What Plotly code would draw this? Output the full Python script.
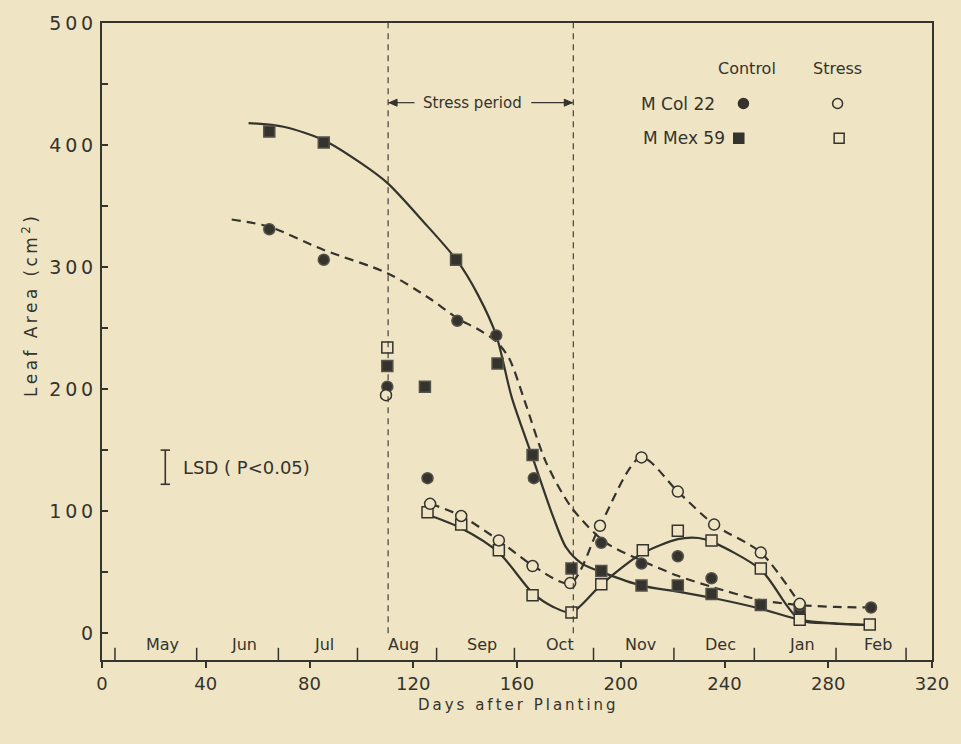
import plotly.graph_objects as go

# ---------------- data ----------------
# MCol 22 - control (filled circles)
col_ctrl_day = [64.5, 85.5, 110, 125.5, 137, 152, 166.5, 192.5, 208, 222, 235, 269, 296.5]
col_ctrl_val = [331, 306, 202, 127, 256, 244, 127, 74, 57, 63, 45, 23, 21]
# MMex 59 - control (filled squares)
mex_ctrl_day = [64.5, 85.5, 110, 124.5, 136.5, 152.5, 166, 181, 192.5, 208, 222, 235, 254, 269]
mex_ctrl_val = [411, 402, 219, 202, 306, 221, 146, 53, 51, 39, 39, 32, 23, 20]
# MCol 22 - stress (open circles)
col_str_day = [109.5, 126.5, 138.5, 153, 166, 180.5, 192, 208, 222, 236, 254, 269]
col_str_val = [195, 106, 96, 76, 55, 41, 88, 144, 116, 89, 66, 24]
# MMex 59 - stress (open squares)
mex_str_day = [110, 125.5, 138.5, 153, 166, 181, 192.5, 208.5, 222, 235, 254, 269, 296]
mex_str_val = [234, 99, 89, 68, 31, 17, 40, 68, 84, 76, 53, 11, 7]

# fitted curves
fit_mex_ctrl_day = [56.5, 70, 85.5, 100, 110, 124, 137, 145, 152, 158, 166, 174, 179, 185, 194, 208, 222, 235, 254, 269, 282, 296]
fit_mex_ctrl_val = [418, 415, 404, 385, 369, 337, 305, 277, 244, 193, 144, 95, 70, 57, 49, 39, 34, 29, 20, 11, 8, 6.5]
fit_col_ctrl_day = [50, 64.5, 85.5, 110, 126.5, 137, 145, 152, 157, 163, 171, 181, 194, 208, 222, 235, 254, 269, 283, 297]
fit_col_ctrl_val = [339, 333, 314, 295, 274, 258, 249, 239, 225, 190, 141, 103, 74.5, 59.5, 47, 38, 27, 23, 21.5, 21]
fit_mex_str_day = [125.6, 138.5, 153, 166, 174, 181, 192.6, 208, 222, 230, 235, 254, 269, 282, 296]
fit_mex_str_val = [97, 86, 66, 33, 21.5, 17, 40, 65, 77, 78, 75, 52, 11, 8, 6.5]
fit_col_str_day = [126.7, 138.5, 153, 166, 180.5, 192, 207.8, 222, 236, 254, 269]
fit_col_str_val = [106, 96, 76, 55.5, 41, 88, 144, 116, 89, 66, 24]

month_names = ["May", "Jun", "Jul", "Aug", "Sep", "Oct", "Nov", "Dec", "Jan", "Feb"]
month_bounds = [5, 36.5, 68, 98.5, 129, 159, 189.5, 220.5, 251.5, 283, 310]

x_ticks = [0, 40, 80, 120, 160, 200, 240, 280, 320]
y_ticks = [0, 100, 200, 300, 400, 500]
y_minor_step = 50

stress_start, stress_end = 110.3, 181.7
lsd_value = 28

# ---------------- style ----------------
BG = "#efe5c4"
INK = "#35332d"
FONT = "DejaVu Sans"
DASH = "9px,6px"
THIN = "\u2009"


def spaced(s, sep=THIN):
    return sep.join(list(s))


fig = go.Figure()


def line(xs, ys, dash=None):
    fig.add_trace(go.Scatter(x=xs, y=ys, mode="lines",
                             line=dict(color=INK, width=2.2, shape="spline", smoothing=0.8, dash=dash),
                             hoverinfo="skip", showlegend=False))


line(fit_mex_ctrl_day, fit_mex_ctrl_val)
line(fit_col_ctrl_day, fit_col_ctrl_val, DASH)
line(fit_mex_str_day, fit_mex_str_val)
line(fit_col_str_day, fit_col_str_val, DASH)


def pts(xs, ys, symbol, filled):
    fig.add_trace(go.Scatter(x=xs, y=ys, mode="markers",
                             marker=dict(symbol=symbol, size=11,
                                         color=INK if filled else BG,
                                         line=dict(color=INK if not filled else "#55524a", width=1.5)),
                             showlegend=False))


pts(mex_ctrl_day, mex_ctrl_val, "square", True)
pts(col_ctrl_day, col_ctrl_val, "circle", True)
pts(mex_str_day, mex_str_val, "square", False)
pts(col_str_day, col_str_val, "circle", False)

shapes = []
# stress period lines
for xv in (stress_start, stress_end):
    shapes.append(dict(type="line", x0=xv, x1=xv, y0=0, y1=500, xref="x", yref="y",
                       line=dict(color=INK, width=1.1, dash="6px,5px")))
# stress period arrows
arrow_y = 434.7
shapes.append(dict(type="line", x0=stress_start, x1=120.5, y0=arrow_y, y1=arrow_y,
                   line=dict(color=INK, width=1.2)))
shapes.append(dict(type="line", x0=165.5, x1=stress_end, y0=arrow_y, y1=arrow_y,
                   line=dict(color=INK, width=1.2)))
shapes.append(dict(type="path", xref="x", yref="y", xsizemode="pixel", ysizemode="pixel",
                   xanchor=stress_start, yanchor=arrow_y, path="M 1 0 L 9 3.5 L 9 -3.5 Z",
                   fillcolor=INK, line=dict(color=INK, width=1)))
shapes.append(dict(type="path", xref="x", yref="y", xsizemode="pixel", ysizemode="pixel",
                   xanchor=stress_end, yanchor=arrow_y, path="M -1 0 L -9 3.5 L -9 -3.5 Z",
                   fillcolor=INK, line=dict(color=INK, width=1)))
# month separator ticks
for b in month_bounds:
    shapes.append(dict(type="line", x0=b, x1=b, y0=-22, y1=-12, xref="x", yref="y",
                       line=dict(color=INK, width=1.5)))
# LSD bar
lsd_x, lsd_y = 24.4, 136
shapes.append(dict(type="line", x0=lsd_x, x1=lsd_x, y0=lsd_y - lsd_value / 2, y1=lsd_y + lsd_value / 2,
                   line=dict(color=INK, width=1.6)))
for yy in (lsd_y - lsd_value / 2, lsd_y + lsd_value / 2):
    shapes.append(dict(type="line", x0=lsd_x - 1.8, x1=lsd_x + 1.8, y0=yy, y1=yy, line=dict(color=INK, width=1.6)))


# legend symbols
def sym(kind, xv, yv, filled):
    shapes.append(dict(type=kind, xref="x", yref="y", xsizemode="pixel", ysizemode="pixel",
                       xanchor=xv, yanchor=yv, x0=-5, x1=5, y0=-5, y1=5,
                       fillcolor=INK if filled else BG, line=dict(color=INK, width=1.5)))


sym("circle", 247.3, 434, True)
sym("circle", 283.6, 434, False)
sym("rect", 245.5, 405.5, True)
sym("rect", 284.2, 405.5, False)

ann = []
for i, name in enumerate(month_names):
    ann.append(dict(x=(month_bounds[i] + month_bounds[i + 1]) / 2 + 2.5, y=-9, text=name, showarrow=False,
                    font=dict(size=16, color=INK, family=FONT), xref="x", yref="y"))
ann += [
    dict(x=248.5, y=463, text="Control", showarrow=False, font=dict(size=16, color=INK, family=FONT)),
    dict(x=283.6, y=463, text="Stress", showarrow=False, font=dict(size=16, color=INK, family=FONT)),
    dict(x=237, y=434, text="M Col 22", showarrow=False, xanchor="right",
         font=dict(size=17, color=INK, family=FONT)),
    dict(x=241, y=405.5, text="M Mex 59", showarrow=False, xanchor="right",
         font=dict(size=17, color=INK, family=FONT)),
    dict(x=143, y=arrow_y, text="Stress period", showarrow=False, font=dict(size=15, color=INK, family=FONT)),
    dict(x=30.5, y=lsd_y, text="LSD ( P<0.05)", showarrow=False, xanchor="left",
         font=dict(size=18, color=INK, family=FONT)),
    dict(xref="paper", yref="paper", x=-0.086, y=0.555, xanchor="center", yanchor="middle",
         text=spaced("Leaf Area (cm") + THIN + "<sup>2</sup>" + THIN + ")", textangle=-90,
         showarrow=False, font=dict(size=17, color=INK, family=FONT)),
    dict(xref="paper", yref="paper", x=0.5, y=-0.07, xanchor="center", yanchor="middle",
         text=spaced("Days after Planting"), showarrow=False, font=dict(size=15, color=INK, family=FONT)),
]

fig.update_layout(
    width=961, height=744,
    margin=dict(l=102, r=21, t=20, b=84),
    paper_bgcolor=BG, plot_bgcolor=BG,
    shapes=shapes, annotations=ann,
    xaxis=dict(range=[0, 320], tickvals=x_ticks, ticks="outside", ticklen=6, tickwidth=1.5, tickcolor=INK,
               showgrid=False, zeroline=False, showline=True, linecolor=INK, linewidth=2, mirror=True,
               tickfont=dict(size=18, color=INK, family=FONT)),
    yaxis=dict(range=[-22, 500], tickvals=y_ticks, ticktext=[THIN.join(list(str(t))) for t in y_ticks],
               ticks="inside", ticklen=6, ticklabelstandoff=3,
               minor=dict(dtick=y_minor_step, tick0=0, ticks="inside", ticklen=6, tickwidth=1.5,
                          tickcolor=INK, showgrid=False),
               tickwidth=1.5, tickcolor=INK, showgrid=False, zeroline=False, showline=True, linecolor=INK,
               linewidth=2, mirror=True, tickfont=dict(size=19, color=INK, family=FONT)),
)

fig.write_html("out.html")
